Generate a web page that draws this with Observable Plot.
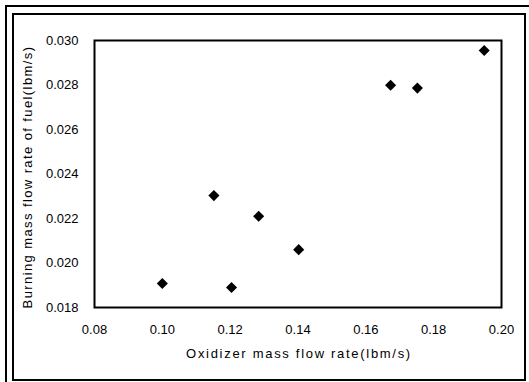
<!DOCTYPE html>
<html>
<head>
<meta charset="utf-8">
<script src="https://cdn.jsdelivr.net/npm/d3@7"></script>
<script src="https://cdn.jsdelivr.net/npm/@observablehq/plot@0.6"></script>
<style>
  html, body { margin: 0; padding: 0; background: #fff; }
  #wrap { position: relative; width: 529px; height: 382px; overflow: hidden; }
  #outer { position: absolute; left: 5px; top: 5px; width: 526px; height: 380px; border-left: 2px solid #000; border-top: 2px solid #000; box-sizing: border-box; }
  #inner { position: absolute; left: 12px; top: 13px; width: 514px; height: 368px; border: 2px solid #000; box-sizing: border-box; }
  #chart { position: absolute; left: 0; top: 0; }
  svg { font-family: "Liberation Sans", Arial, sans-serif; }
</style>
</head>
<body>
<div id="wrap">
  <div id="outer"></div>
  <div id="inner"></div>
  <div id="chart"></div>
</div>
<script>
const oxidizer = [0.100, 0.1152, 0.1204, 0.1284, 0.1402, 0.1673, 0.1752, 0.1949];
const fuel =     [0.01908, 0.02303, 0.01890, 0.02210, 0.02060, 0.02799, 0.02786, 0.02955];
const xTicks = [0.08, 0.10, 0.12, 0.14, 0.16, 0.18, 0.20];
const yTicks = [0.018, 0.020, 0.022, 0.024, 0.026, 0.028, 0.030];
const xLabel = "Oxidizer mass flow rate(lbm/s)";
const yLabel = "Burning mass flow rate of fuel(lbm/s)";

const data = oxidizer.map((x, i) => ({x, y: fuel[i]}));

const chart = Plot.plot({
  width: 529,
  height: 382,
  marginLeft: 94,
  marginRight: 28,
  marginTop: 40,
  marginBottom: 75,
  style: {background: "transparent", fontSize: "13px", fontFamily: "'Liberation Sans', Arial, sans-serif", color: "#000"},
  x: {domain: [0.08, 0.20], ticks: xTicks, tickFormat: d3.format(".2f"), tickSize: 0, tickPadding: 16, label: null},
  y: {domain: [0.018, 0.030], ticks: yTicks, tickFormat: d3.format(".3f"), tickSize: 0, tickPadding: 16, label: null},
  marks: [
    Plot.frame({stroke: "#000", strokeWidth: 2}),
    Plot.axisX({ticks: xTicks, tickFormat: d3.format(".2f"), tickSize: 0, tickPadding: 17, label: null, fill: "#000"}),
    Plot.axisY({ticks: yTicks, tickFormat: d3.format(".3f"), tickSize: 0, tickPadding: 16, label: null, fill: "#000"}),
    Plot.dot(data, {x: "x", y: "y", symbol: "diamond2", r: 5, fill: "#000", stroke: "none"})
  ]
});
document.getElementById("chart").appendChild(chart);

const svg = d3.select(chart);
svg.append("text")
  .attr("x", 299).attr("y", 358)
  .attr("text-anchor", "middle")
  .attr("font-size", 13)
  .attr("letter-spacing", 1.7)
  .attr("fill", "#000")
  .text(xLabel);
svg.append("text")
  .attr("transform", "translate(32,177) rotate(-90)")
  .attr("text-anchor", "middle")
  .attr("font-size", 13)
  .attr("letter-spacing", 1.4)
  .attr("fill", "#000")
  .text(yLabel);
</script>
</body>
</html>
